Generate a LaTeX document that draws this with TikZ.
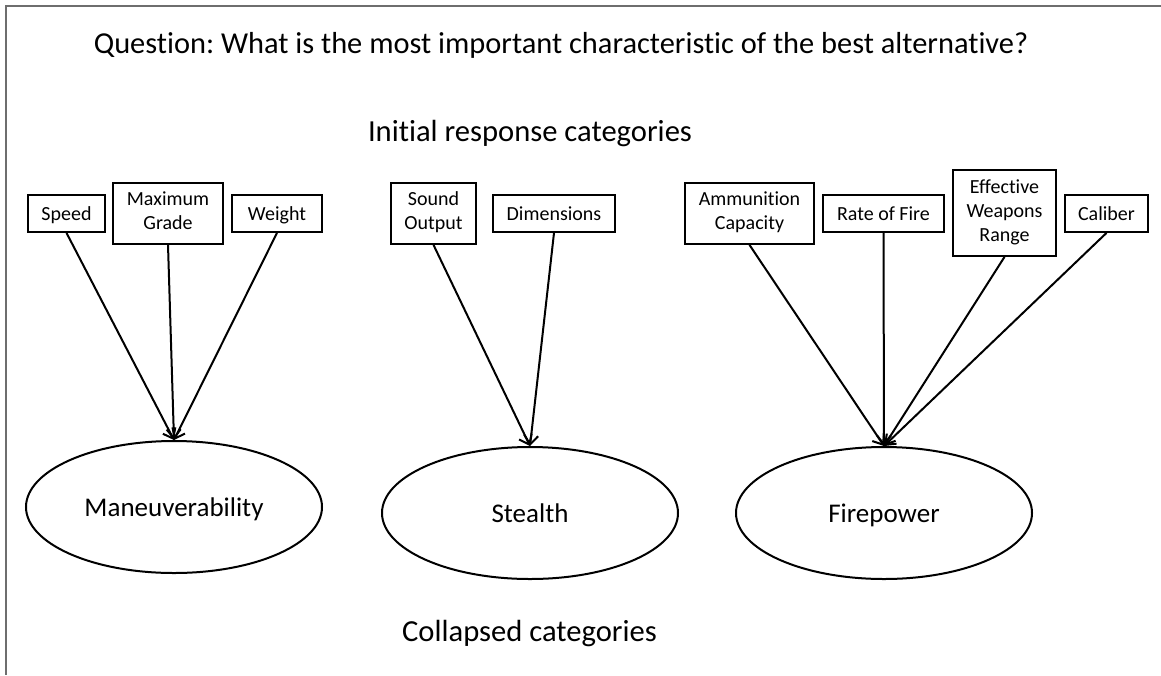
\documentclass[tikz,border=0pt]{standalone}
\usepackage{fontspec}
\setmainfont[Ligatures={NoCommon}]{Carlito}
\usetikzlibrary{shapes.geometric,arrows.meta}
\newcommand\boxstrut{\rule[-5pt]{0pt}{23pt}}
\begin{document}
\frenchspacing
\begin{tikzpicture}[x=1pt,y=-1pt,
  box/.style={draw,line width=1.8pt,inner sep=0pt,align=center,font=\fontsize{20}{24}\selectfont,
    execute at begin node=\boxstrut, execute at end node=\boxstrut},
  cat/.style={draw,ellipse,line width=2pt,inner sep=0pt,minimum width=296pt,minimum height=132pt,
    text height=20pt,text depth=2pt,font=\fontsize{27}{30}\selectfont},
  arr/.style={line width=2pt,-{Straight Barb[length=9pt,width=14pt]}},
  heading/.style={anchor=base,inner sep=0pt,font=\fontsize{30.6}{36}\selectfont},
  frameline/.style={draw=black!57,line width=1.2pt}]
\useasboundingbox (0,0) rectangle (1161,675);
\draw[frameline] (1161,6) -- (6,6) -- (6,675);

\node[heading,font=\fontsize{30.4}{36}\selectfont] (title) at (561,53) {Question: What is the most important characteristic of the best alternative?};
\node[heading] (initial) at (530,141) {Initial response categories};
\node[heading] (collapsed) at (529.5,641) {Collapsed categories};

\node[box,minimum width=77pt,minimum height=37pt] (speed) at (66.5,213.5) {Speed};
\node[box,minimum width=110pt,minimum height=61pt] (grade) at (168,213.5) {Maximum\\Grade};
\node[box,minimum width=90pt,minimum height=37pt] (weight) at (277,213.5) {Weight};

\node[box,minimum width=85pt,minimum height=61pt] (sound) at (433.5,213.5) {Sound\\Output};
\node[box,minimum width=122pt,minimum height=37pt] (dims) at (554,213.5) {Dimensions};

\node[box,minimum width=129pt,minimum height=61pt] (ammo) at (749.5,213.5) {Ammunition\\Capacity};
\node[box,minimum width=121pt,minimum height=37pt] (rate) at (883.5,213.5) {Rate of Fire};
\node[box,minimum width=103pt,minimum height=86pt] (range) at (1004.5,213) {Effective\\Weapons\\Range};
\node[box,minimum width=83pt,minimum height=37pt] (caliber) at (1106.5,213.5) {Caliber};

\node[cat] (man) at (174,507) {Maneuverability};
\node[cat] (stealth) at (530,513) {Stealth};
\node[cat] (fire) at (884,513) {Firepower};

\draw[arr] (speed.south) -- (man.north);
\draw[arr] (grade.south) -- (man.north);
\draw[arr] (weight.south) -- (man.north);
\draw[arr] (sound.south) -- (stealth.north);
\draw[arr] (dims.south) -- (stealth.north);
\draw[arr] (ammo.south) -- (fire.north);
\draw[arr] (rate.south) -- (fire.north);
\draw[arr] (range.south) -- (fire.north);
\draw[arr] (caliber.south) -- (fire.north);
\end{tikzpicture}
\end{document}
